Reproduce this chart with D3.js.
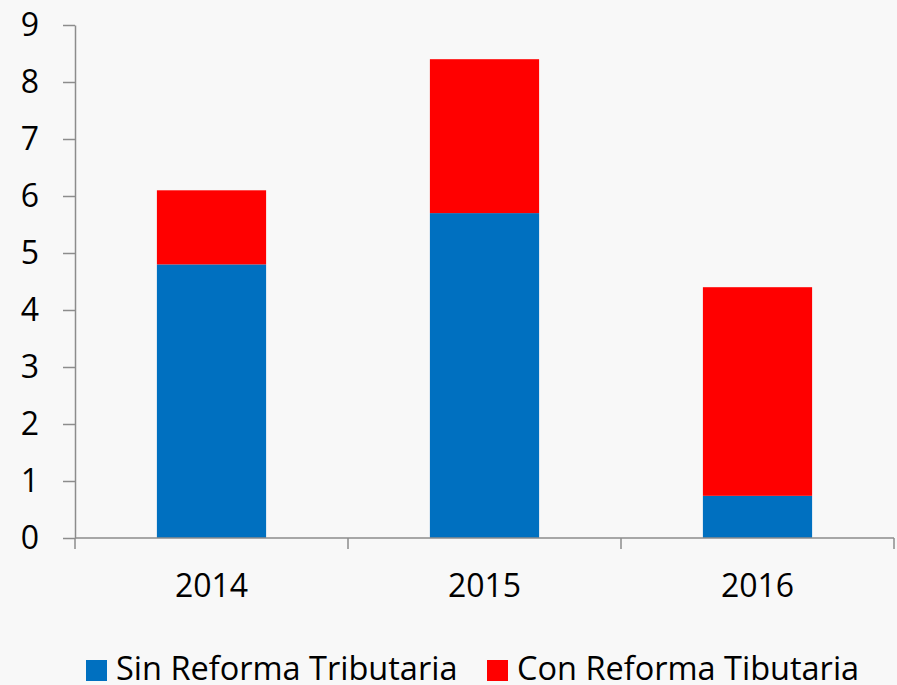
<!DOCTYPE html>
<html>
<head>
<meta charset="utf-8">
<script src="https://cdn.jsdelivr.net/npm/d3@7"></script>
<style>
  body { margin: 0; background: #f8f8f8; }
  svg { display: block; font-family: "Open Sans", sans-serif; }
</style>
</head>
<body>
<div id="chart"></div>
<script>
// Chart data
const years = ["2014", "2015", "2016"];
const sinReforma = [4.8, 5.7, 0.74];
const conReforma = [1.3, 2.7, 3.66];
const seriesNames = ["Sin Reforma Tributaria", "Con Reforma Tibutaria"];
const yTicks = [0, 1, 2, 3, 4, 5, 6, 7, 8, 9];

const width = 897;
const height = 685;
const colors = ["#0070c0", "#ff0000"];
const axisColor = "#8c8c8c";

const svg = d3.select("#chart").append("svg")
    .attr("width", width)
    .attr("height", height);

svg.append("rect").attr("width", width).attr("height", height).attr("fill", "#f8f8f8");

// Scales
const x = d3.scaleBand()
    .domain(years)
    .range([75, 894])
    .paddingInner(0.6)
    .paddingOuter(0.3);

const y = d3.scaleLinear()
    .domain([0, 9])
    .range([538, 25]);

// Stack the two series
const rows = years.map((yr, i) => ({ year: yr, sin: sinReforma[i], con: conReforma[i] }));
const stacked = d3.stack().keys(["sin", "con"])(rows);

svg.append("g")
    .selectAll("g")
    .data(stacked)
    .enter().append("g")
    .attr("fill", (d, i) => colors[i])
    .selectAll("rect")
    .data(d => d)
    .enter().append("rect")
    .attr("x", d => x(d.data.year))
    .attr("width", x.bandwidth())
    .attr("y", d => y(d[1]))
    .attr("height", d => y(d[0]) - y(d[1]));

// Y axis
const yAxis = svg.append("g")
    .attr("transform", "translate(75,0)")
    .call(d3.axisLeft(y).tickValues(yTicks).tickSize(12).tickPadding(24).tickSizeOuter(0));
yAxis.select(".domain").attr("stroke", axisColor).attr("stroke-width", 1.5);
yAxis.selectAll(".tick line").attr("stroke", axisColor).attr("stroke-width", 1.5);
yAxis.selectAll(".tick text")
    .attr("fill", "#000")
    .style("font-size", "32px")
    .style("font-family", "'Open Sans', sans-serif");

// X axis: line with ticks at category boundaries
const step = x.step();
const x0 = x.range()[0];
const xAxis = svg.append("g");
xAxis.append("line")
    .attr("x1", x0).attr("x2", x.range()[1])
    .attr("y1", y(0)).attr("y2", y(0))
    .attr("stroke", axisColor).attr("stroke-width", 1.5);
xAxis.selectAll(".xtick")
    .data(d3.range(years.length + 1))
    .enter().append("line")
    .attr("x1", i => x0 + i * step).attr("x2", i => x0 + i * step)
    .attr("y1", y(0)).attr("y2", y(0) + 11)
    .attr("stroke", axisColor).attr("stroke-width", 1.5);
xAxis.selectAll(".xlabel")
    .data(years)
    .enter().append("text")
    .attr("x", d => x(d) + x.bandwidth() / 2)
    .attr("y", 597)
    .attr("text-anchor", "middle")
    .style("font-size", "32px")
    .text(d => d);

// Legend
const legendX = [86, 487];
const legend = svg.append("g")
    .selectAll("g")
    .data(seriesNames)
    .enter().append("g")
    .attr("transform", (d, i) => `translate(${legendX[i]},660)`);
legend.append("rect")
    .attr("width", 21).attr("height", 21)
    .attr("fill", (d, i) => colors[i]);
legend.append("text")
    .attr("x", 30).attr("y", 20)
    .style("font-size", "32.5px")
    .text(d => d);
</script>
</body>
</html>
